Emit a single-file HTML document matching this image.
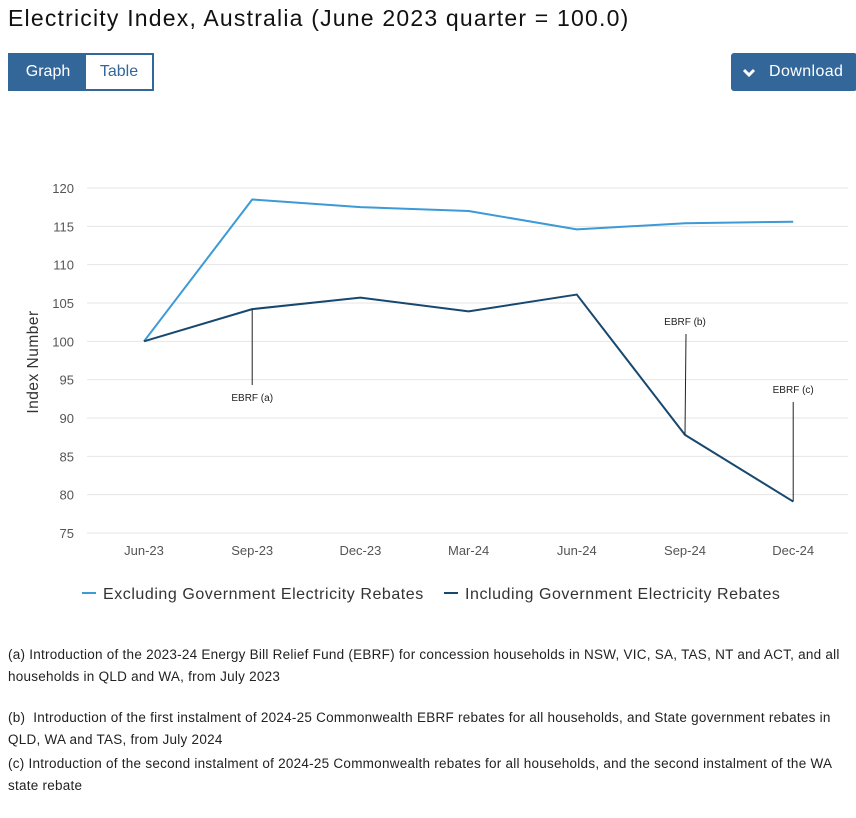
<!DOCTYPE html>
<html><head><meta charset="utf-8"><style>
body{margin:0;width:856px;height:818px;background:#fff;font-family:"Liberation Sans",sans-serif;color:#222;position:relative;overflow:hidden}
h1{position:absolute;left:8px;top:5px;margin:0;font-size:23px;font-weight:normal;color:#111;letter-spacing:1.2px;white-space:nowrap}
.tabs{position:absolute;left:8px;top:53px;height:38px;border:2px solid #336699;box-sizing:border-box;display:flex;width:146px}
.tab{font-size:16px;line-height:34px;text-align:center}
.dl{position:absolute;left:731px;top:53px;width:126px;height:38px;background:#336699;color:#fff;border-radius:3px;font-size:16px;line-height:38px}
.note{position:absolute;left:8px;font-size:13.5px;line-height:22px;color:#222;width:842px;letter-spacing:0.25px}
</style></head><body>
<h1>Electricity Index, Australia (June 2023 quarter = 100.0)</h1>
<div class="tabs">
<div class="tab" style="width:76px;background:#336699;color:#fff">Graph</div>
<div class="tab" style="flex:1;color:#336699">Table</div>
</div>
<div class="dl"><svg width="14" height="10" style="position:absolute;left:11px;top:15px"><polyline points="2,2 7,7 12,2" fill="none" stroke="#fff" stroke-width="3"/></svg><span style="position:absolute;left:38px;letter-spacing:0.4px">Download</span></div>
<svg id="chart" width="856" height="620" style="position:absolute;left:0;top:0"></svg>
<div class="note" style="top:644px">(a) Introduction of the 2023-24 Energy Bill Relief Fund (EBRF) for concession households in NSW, VIC, SA, TAS, NT and ACT, and all households in QLD and WA, from July 2023</div>
<div class="note" style="top:707px">(b)&nbsp; Introduction of the first instalment of 2024-25 Commonwealth EBRF rebates for all households, and State government rebates in<br>QLD, WA and TAS, from July 2024</div>
<div class="note" style="top:753px">(c) Introduction of the second instalment of 2024-25 Commonwealth rebates for all households, and the second instalment of the WA<br>state rebate</div>
<script>
const categories=["Jun-23","Sep-23","Dec-23","Mar-24","Jun-24","Sep-24","Dec-24"];
const excluding=[100,118.5,117.5,117.0,114.6,115.4,115.6];
const including=[100,104.2,105.7,103.9,106.1,87.8,79.1];
const yTicks=[75,80,85,90,95,100,105,110,115,120];
const svg=document.getElementById('chart');
const NS='http://www.w3.org/2000/svg';
function x(i){return 144+i*108.2;}
function y(v){return 533-(v-75)*7.667;}
function mk(t,a,p){const e=document.createElementNS(NS,t);for(const k in a)e.setAttribute(k,a[k]);(p||svg).appendChild(e);return e;}
yTicks.forEach(v=>{
 const l=mk('line',{x1:87,x2:848,y1:y(v),y2:y(v),stroke:'#e6e6e6','stroke-width':1});
 
 
 const t=mk('text',{x:74,y:y(v)+5,'text-anchor':'end','font-size':13,fill:'#555'});t.textContent=v;
 
 
});
categories.forEach((c,i)=>{
 const t=mk('text',{x:x(i),y:555,'text-anchor':'middle','font-size':13,fill:'#555'});t.textContent=c;
 
 
});
const yt=mk('text',{transform:'translate(38,362) rotate(-90)','text-anchor':'middle','font-size':15.5,fill:'#333','letter-spacing':'0.5'});yt.textContent='Index Number';


function line(d,col,name){
 const p=mk('polyline',{points:d.map((v,i)=>x(i)+','+y(v)).join(' '),fill:'none',stroke:col,'stroke-width':2,'stroke-linejoin':'round'});
 
 
}
line(excluding,'#3c9ad6','series-excluding-rebates');
line(including,'#17486f','series-including-rebates');
const notes=[{i:1,end:385,ty:401,txt:'EBRF (a)'},{i:5,end:334,ty:325,txt:'EBRF (b)'},{i:6,end:402,ty:393,txt:'EBRF (c)'}];
notes.forEach(n=>{
 mk('line',{x1:x(n.i),x2:x(n.i)+(n.i==5?1:0),y1:y(including[n.i]),y2:n.end,stroke:'#222','stroke-width':1});
 const t=mk('text',{x:x(n.i),y:n.ty,'text-anchor':'middle','font-size':10,fill:'#222'});t.textContent=n.txt;
 
 
});
[[82,'#3c9ad6','Excluding Government Electricity Rebates','legend-excluding'],[444,'#17486f','Including Government Electricity Rebates','legend-including']].forEach(l=>{
 const g=mk('g',{});
 
 
 mk('line',{x1:l[0],x2:l[0]+14,y1:593,y2:593,stroke:l[1],'stroke-width':2},g);
 const t=mk('text',{x:l[0]+21,y:599,'font-size':16,fill:'#333','letter-spacing':'0.55'},g);t.textContent=l[2];
});
</script>
</body></html>
